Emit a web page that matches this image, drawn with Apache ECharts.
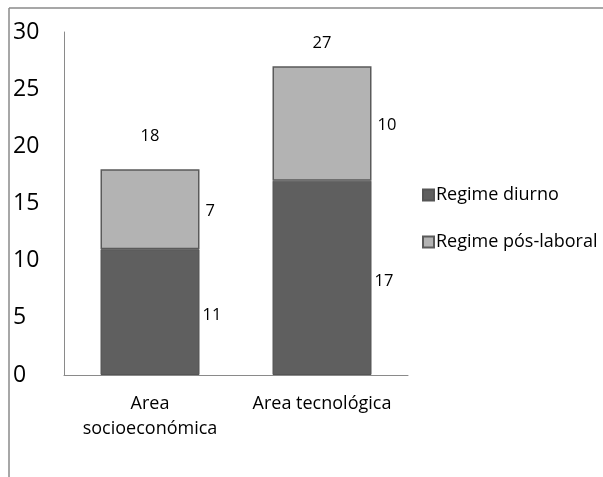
<!DOCTYPE html>
<html>
<head>
<meta charset="utf-8">
<script src="https://cdn.jsdelivr.net/npm/echarts@6/dist/echarts.min.js"></script>
<style>
  html, body { margin: 0; padding: 0; background: #fff; }
  #chart { width: 603px; height: 477px; }
</style>
</head>
<body>
<div id="chart"></div>
<script>
// Students per area, split by schedule
const categories = ['Area\nsocioeconómica', 'Area tecnológica'];
const diurno = [11, 17];
const posLaboral = [7, 10];
const totals = [18, 27];
const seriesNames = ['Regime diurno', 'Regime pós-laboral'];
const yTicks = [0, 5, 10, 15, 20, 25, 30];

const FONT = 'Open Sans';
const chart = echarts.init(document.getElementById('chart'), null, { renderer: 'canvas' });

chart.setOption({
  animation: false,
  backgroundColor: '#ffffff',
  textStyle: { fontFamily: FONT, color: '#000' },
  graphic: [
    // outer chart frame (left and top edges)
    { type: 'line', shape: { x1: 9, y1: 8, x2: 9, y2: 477 }, style: { stroke: '#8a8a8a', lineWidth: 1.5 } },
    { type: 'line', shape: { x1: 9, y1: 8, x2: 603, y2: 8 }, style: { stroke: '#8a8a8a', lineWidth: 1.5 } }
  ],
  grid: { left: 64, top: 32, width: 344, height: 343, containLabel: false },
  legend: {
    data: seriesNames.map(n => ({ name: n, icon: 'rect' })),
    orient: 'vertical',
    left: 417,
    top: 181,
    itemGap: 29,
    itemWidth: 11,
    itemHeight: 11,
    textStyle: { fontFamily: FONT, fontSize: 18, color: '#000', padding: [0, 0, 0, -3] }
  },
  xAxis: {
    type: 'category',
    data: categories,
    axisLine: { lineStyle: { color: '#8a8a8a', width: 1 } },
    axisTick: { show: false },
    axisLabel: { fontFamily: FONT, fontSize: 18, color: '#000', lineHeight: 25, margin: 16, interval: 0 }
  },
  yAxis: {
    type: 'value',
    min: yTicks[0],
    max: yTicks[yTicks.length - 1],
    interval: 5,
    splitLine: { show: false },
    axisLine: { show: true, lineStyle: { color: '#8a8a8a', width: 1 } },
    axisTick: { show: false },
    axisLabel: { fontFamily: FONT, fontSize: 23, color: '#000', align: 'left', margin: 51 }
  },
  series: [
    {
      name: seriesNames[0],
      type: 'bar',
      stack: 'total',
      barWidth: 99,
      data: diurno,
      itemStyle: { color: '#5f5f5f', borderColor: '#555555', borderWidth: 1 },
      label: { show: true, position: 'right', distance: 3, fontFamily: FONT, fontSize: 16.5, color: '#000', offset: [0, 3] }
    },
    {
      name: seriesNames[1],
      type: 'bar',
      stack: 'total',
      barWidth: 99,
      data: posLaboral,
      itemStyle: { color: '#b3b3b3', borderColor: '#5a5a5a', borderWidth: 1.5 },
      label: { show: true, position: 'right', distance: 6, fontFamily: FONT, fontSize: 16.5, color: '#000', offset: [0, 2] }
    },
    {
      // transparent overlay carrying the total labels above each stack
      name: 'Total',
      type: 'bar',
      barWidth: 99,
      barGap: '-100%',
      data: totals.map((v, i) => ({
        value: v,
        label: { distance: i === 0 ? 24 : 15 }
      })),
      itemStyle: { color: 'rgba(0,0,0,0)' },
      z: 0,
      silent: true,
      label: { show: true, position: 'top', fontFamily: FONT, fontSize: 16.5, color: '#000' }
    }
  ]
});
</script>
</body>
</html>
